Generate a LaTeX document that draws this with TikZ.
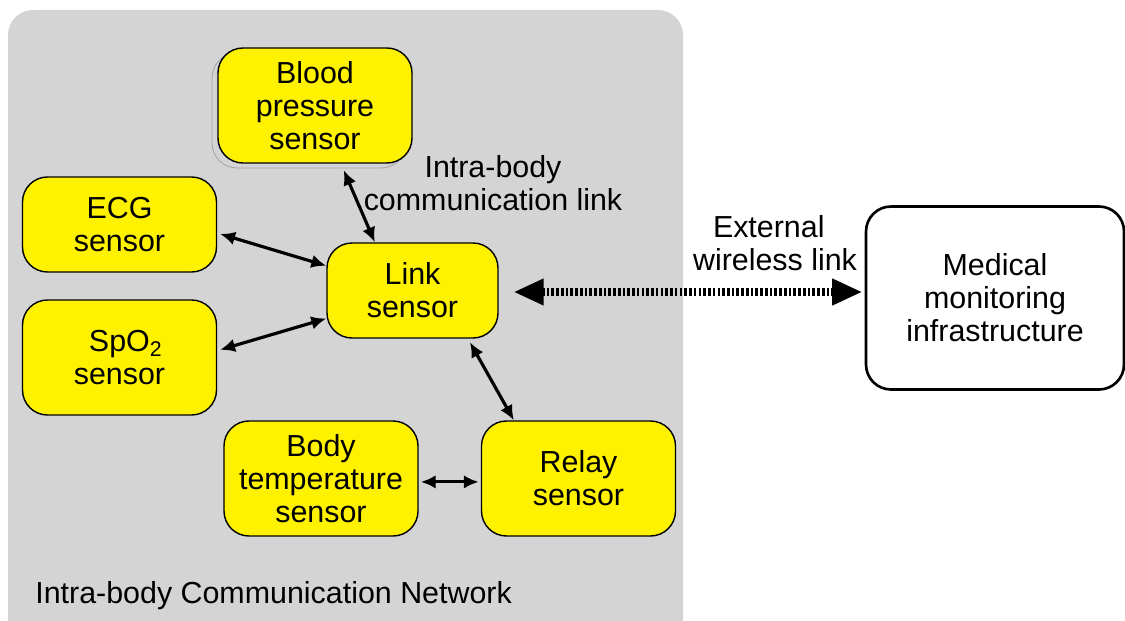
\documentclass[tikz,border=0pt]{standalone}
\usepackage{fontspec}
\setmainfont{Liberation Sans}
\usetikzlibrary{positioning, arrows.meta, shadows}

\begin{document}
\begin{tikzpicture}[
  font=\fontsize{17.3}{18.8}\selectfont,
  network/.style={rectangle, rounded corners=0.5cm, fill=black!17},
  sensor/.style={rectangle, rounded corners=0.5cm, draw=black, fill=yellow, line width=0.8pt, minimum width=3.88cm, minimum height=2.3cm, align=center},
  infra/.style={rectangle, rounded corners=0.5cm, draw=black, fill=white, line width=1.5pt, minimum width=5.16cm, minimum height=3.66cm, align=center},
  arrow/.style={{Latex[length=0.3cm,width=0.27cm]}-{Latex[length=0.3cm,width=0.27cm]}, line width=1.8pt},
  wireless/.style={{Triangle[length=0.6cm,width=0.5cm]}-{Triangle[length=0.6cm,width=0.5cm]}, line width=4pt, dash pattern=on 1.5pt off 1.2pt},
  label/.style={align=center}
]
\useasboundingbox (0,0) rectangle (22.5,-12.42);

% network background
\fill[network] (0.16,-0.2) rectangle (13.66,-12.9);
\node[anchor=base west, inner sep=0pt] (netname) at (0.7,-12.06) {Intra-body Communication Network};

% sensors
\node[sensor, copy shadow={shadow xshift=-0.12cm, shadow yshift=-0.1cm, draw=black!35, fill=black!17, line width=0.5pt}] (bp) at (6.3,-2.11) {Blood\\pressure\\sensor};
\node[sensor, minimum height=1.9cm] (ecg) at (2.39,-4.49) {ECG\\sensor};
\node[sensor] (spo) at (2.39,-7.15) {\hspace*{0.25cm}SpO\textsubscript{2}\\sensor};
\node[sensor, minimum width=3.42cm, minimum height=1.9cm] (link) at (8.25,-5.81) {Link\\sensor};
\node[sensor] (body) at (6.42,-9.57) {Body\\temperature\\sensor};
\node[sensor] (relay) at (11.57,-9.57) {Relay\\sensor};

\node[infra] (med) at (19.9,-5.96) {Medical\\monitoring\\infrastructure};

% link labels
\node[label] (intra) at (9.86,-3.66) {Intra-body\\communication link};
\node[label] (ext) at (15.5,-4.86) {External\hspace*{0.25cm}\\wireless link};

% connectors
\draw[arrow, shorten <=0.14cm] (bp.-66) -- (link.128);
\draw[arrow, shorten <=0.06cm] (ecg.-5) -- (link.164);
\draw[arrow, shorten <=0.06cm] (spo.4) -- (link.198);
\draw[arrow, shorten <=0.08cm] (link.-41) -- (relay.138);
\draw[arrow, shorten <=0.04cm, shorten >=0.04cm] (body.-2) -- (relay.182);

\draw[wireless, shorten <=0.3cm, shorten >=0.05cm] ([yshift=-0.03cm]link.east) -- ([yshift=-0.03cm]link.east -| med.west);

\end{tikzpicture}
\end{document}
